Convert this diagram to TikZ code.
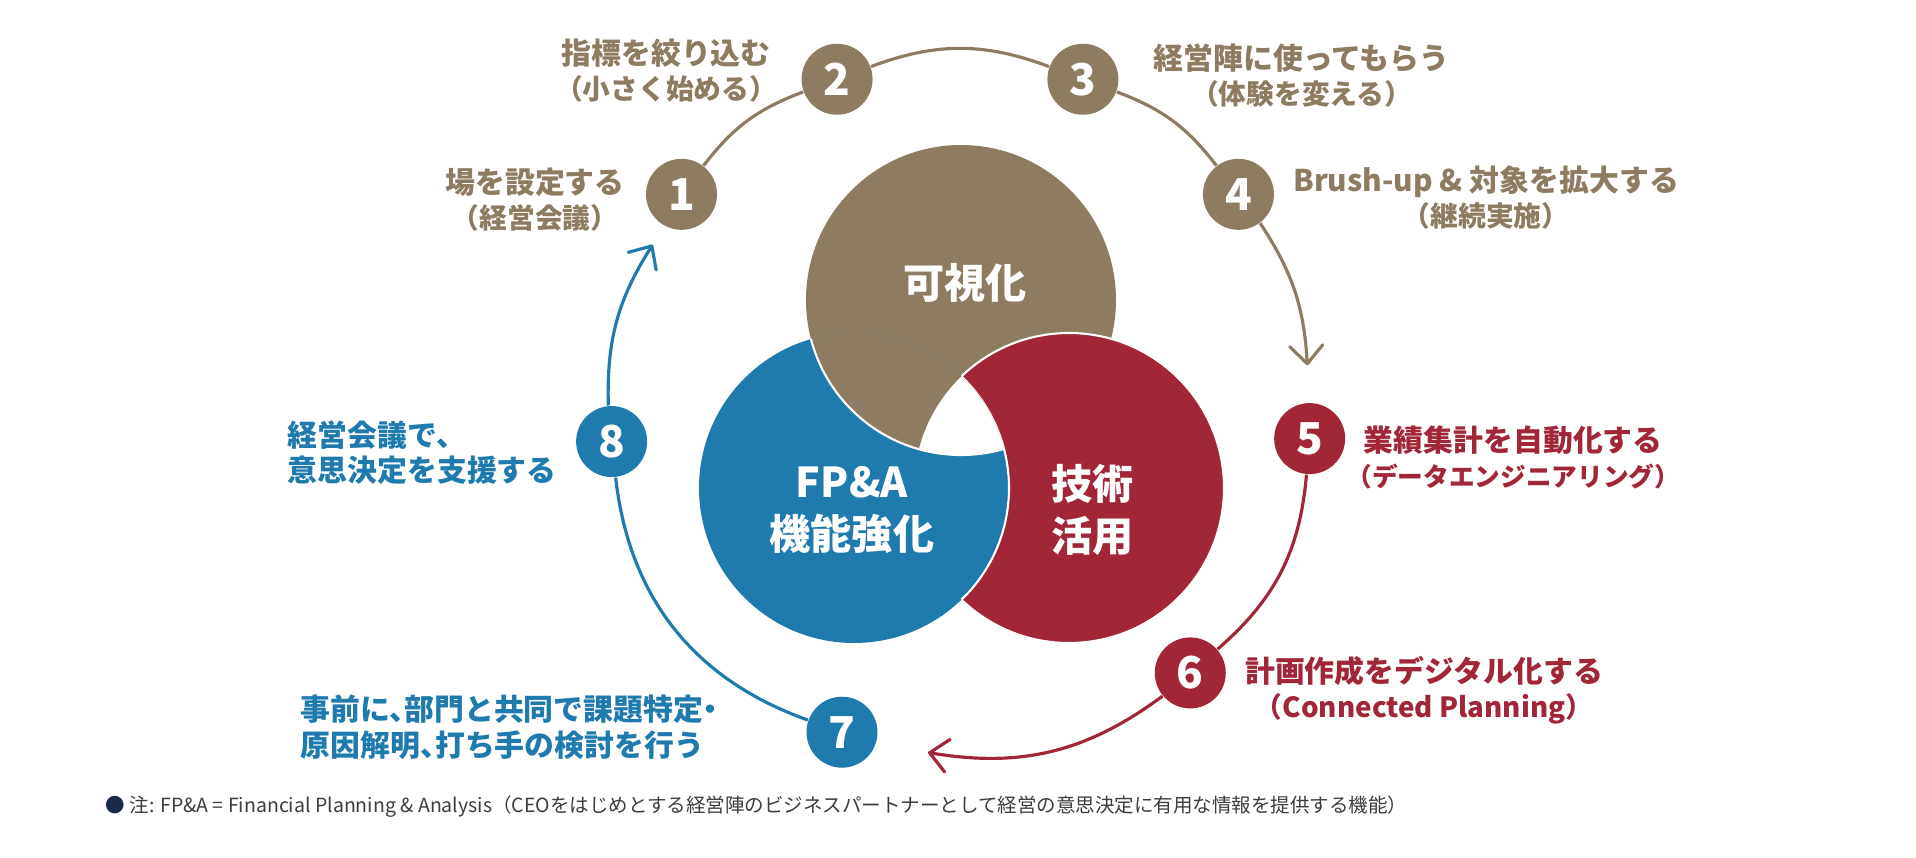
\documentclass[tikz,border=0pt]{standalone}
\usepackage{fontspec}
\setmainfont{Noto Sans CJK JP}
\usepackage{tikz}
\usetikzlibrary{positioning, arrows.meta}
\definecolor{brownc}{RGB}{142,124,98}
\definecolor{redc}{RGB}{161,38,56}
\definecolor{bluec}{RGB}{31,122,174}
\definecolor{navyc}{RGB}{27,42,71}
\definecolor{notec}{RGB}{60,60,60}
\tikzset{
  ringnode/.style = {circle, inner sep=0pt, minimum size=0.71cm, text=white, font=\bfseries\fontsize{12.5pt}{12.5pt}\selectfont},
  steplabel/.style = {align=center, inner sep=0pt, font=\bfseries\fontsize{8.5pt}{10pt}\selectfont},
  vennlabel/.style = {align=center, inner sep=0pt, text=white, font=\bfseries\fontsize{11.7pt}{14.8pt}\selectfont},
  note/.style = {inner sep=0pt, text=notec, font=\fontsize{5.55pt}{6pt}\selectfont},
  ringline/.style = {line width=0.9pt},
  ringarrow/.style = {ringline, -{Straight Barb[length=1.8mm, width=3.3mm, round]}},
  vennedge/.style = {draw=white, line width=0.6pt},
}
\newcommand{\subline}[2][7.9pt]{{\fontsize{#1}{10pt}\selectfont #2}}
\newcommand{\halfpunct}{\addfontfeatures{RawFeature=+halt}}

\begin{document}
\begin{tikzpicture}
\useasboundingbox (-9.60,-4.49) rectangle (9.56,4.08);
\coordinate (V1) at (0.01,1.08);
\coordinate (V2) at (-1.06,-0.80);
\coordinate (V3) at (1.09,-0.80);
\fill [brownc] (V1) circle (1.55);
\filldraw [fill=redc, vennedge] (V3) circle (1.55);
\fill [bluec] (V2) circle (1.55);
\begin{scope}
  \clip (V3) circle (1.55);
  \draw [vennedge] (V2) circle (1.55);
\end{scope}
\begin{scope}
  \clip (V2) circle (1.55);
  \filldraw [fill=brownc, vennedge] (V1) circle (1.55);
  \clip (V3) circle (1.55);
  \fill [white] (V1) circle (1.55);
\end{scope}
\node [vennlabel] (T1) at (0.05,1.25) {可視化};
\node [vennlabel] (T2) at (-1.08,-1.02) {FP\&A\\機能強化};
\node [vennlabel] (T3) at (1.33,-1.02) {技術\\活用};

\node [ringnode, fill=brownc] (N1) at (142.5:3.51) {1};
\node [ringnode, fill=brownc] (N2) at (110.5:3.51) {2};
\node [ringnode, fill=brownc] (N3) at (69.5:3.51) {3};
\node [ringnode, fill=brownc] (N4) at (37.5:3.51) {4};
\node [ringnode, fill=redc] (N5) at (-5:3.51) {5};
\node [ringnode, fill=redc] (N6) at (-49:3.51) {6};
\node [ringnode, fill=bluec] (N7) at (-110:3.45) {7};
\node [ringnode, fill=bluec] (N8) at (185.5:3.5) {8};

\coordinate (A5) at (7:3.5);
\coordinate (A7) at (-95.3:3.46);
\coordinate (A1) at (152:3.48);
\draw [ringline, brownc] (N1) to[bend left=16] (N2);
\draw [ringline, brownc] (N2) to[bend left=20.5] (N3);
\draw [ringline, brownc] (N3) to[bend left=16] (N4);
\draw [ringarrow, brownc] (N4) to[bend left=15] (A5);
\draw [ringline, redc] (N5) to[bend left=22] (N6);
\draw [ringarrow, redc] (N6) to[bend left=23] (A7);
\draw [ringline, bluec] (N7) to[bend left=32] (N8);
\draw [ringarrow, bluec] (N8) to[bend left=17] (A1);

\node [steplabel, brownc, left=0.2cm of N1, yshift=-0.05cm] (L1) {場を設定する\\\subline{（経営会議）}};
\node [steplabel, brownc, left=0.23cm of N2, yshift=0.085cm] (L2) {指標を絞り込む\\\subline{（小さく始める）}};
\node [steplabel, brownc, right=0.34cm of N3, yshift=0.04cm] (L3) {経営陣に使ってもらう\\\subline{（体験を変える）}};
\node [steplabel, brownc, right=0.18cm of N4, yshift=-0.03cm] (L4) {Brush-up \& 対象を拡大する\\\subline{（継続実施）}};
\node [steplabel, redc, right=0cm of N5, yshift=-0.185cm] (L5) {業績集計を自動化する\\\subline[7.3pt]{（データエンジニアリング）}};
\node [steplabel, redc, right=0.18cm of N6, yshift=-0.175cm] (L6) {計画作成をデジタル化する\\\subline{（Connected Planning）}};
\node [steplabel, bluec, align=left, left=0.87cm of N7, yshift=0.05cm] (L7) {\halfpunct 事前に、部門と共同で課題特定・\\\halfpunct 原因解明、打ち手の検討を行う};
\node [steplabel, bluec, align=left, left=0.18cm of N8, yshift=-0.115cm] (L8) {経営会議で、\\意思決定を支援する};

\node [note, anchor=west] (FN) at (-8.55,-3.99) {{\color{navyc}●} 注: FP\&A = Financial Planning \& Analysis（CEOをはじめとする経営陣のビジネスパートナーとして経営の意思決定に有用な情報を提供する機能）};
\end{tikzpicture}
\end{document}
